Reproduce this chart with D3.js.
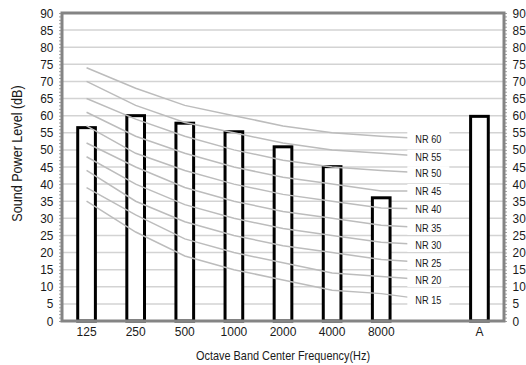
<!DOCTYPE html>
<html><head><meta charset="utf-8">
<script src="https://cdn.jsdelivr.net/npm/d3@7"></script>
<style>
body{margin:0;background:#fff}
text{font-family:"Liberation Sans",Arial,sans-serif;fill:#1a1a1a}
</style>
</head><body><svg id="c" width="526" height="365"></svg>
<script>
const categories = ["125","250","500","1000","2000","4000","8000","","A"];
const soundPower = [56.5, 60.0, 57.8, 55.3, 50.9, 45.1, 36.0, null, 59.8];
const nrCategories = ["125","250","500","1000","2000","4000","8000",""];
const nrNames = ["NR 60","NR 55","NR 50","NR 45","NR 40","NR 35","NR 30","NR 25","NR 20","NR 15"];
const nr60 = [74, 68, 63, 60, 57, 55, 54, 53.2];
const nr55 = [70, 63, 58, 55, 52, 50, 49, 48];
const nr50 = [65, 59, 54, 50, 47, 45, 44, 43.2];
const nr45 = [61, 54, 49, 45, 42, 40, 38, 38];
const nr40 = [57, 49, 44, 40, 37, 35, 33, 32.7];
const nr35 = [52, 45, 39, 35, 32, 30, 28, 27.2];
const nr30 = [48, 40, 34, 30, 27, 25, 23, 22.2];
const nr25 = [44, 35, 29, 25, 22, 20, 18, 17];
const nr20 = [39, 31, 24, 20, 17, 14, 13, 12];
const nr15 = [35, 26, 19, 15, 12, 9, 8, 6.1];
const nrSeries = [nr60, nr55, nr50, nr45, nr40, nr35, nr30, nr25, nr20, nr15];
const yTicks = d3.range(0, 91, 5);
const yMinor = d3.range(0, 91, 1);
const yTitle = "Sound Power Level (dB)";
const xTitle = "Octave Band Center Frequency(Hz)";

const svg = d3.select("#c");
const L = 62, R = 504, T = 13, B = 321;
const x = d3.scaleBand().domain(categories).range([L, R]).padding(0);
const y = d3.scaleLinear().domain([0, 90]).range([B, T]);

// gridlines
svg.append("g").selectAll("line").data(yTicks.filter(d => d > 0 && d < 90)).join("line")
  .attr("x1", L).attr("x2", R).attr("y1", d => y(d)).attr("y2", d => y(d))
  .attr("stroke", "#d3d3d3").attr("stroke-width", 1.5);

// bars
const bw = x.bandwidth() * 0.36;
svg.append("g").selectAll("rect").data(categories.map((c, i) => ({c, v: soundPower[i]})).filter(d => d.v != null)).join("rect")
  .attr("x", d => x(d.c) + x.bandwidth() / 2 - bw / 2)
  .attr("width", bw)
  .attr("y", d => y(d.v))
  .attr("height", d => y(0) - y(d.v))
  .attr("fill", "#fff").attr("stroke", "#000").attr("stroke-width", 3);

// NR curves
const line = d3.line().x((d, i) => x(nrCategories[i]) + x.bandwidth() / 2).y(d => y(d));
svg.append("g").selectAll("path").data(nrSeries).join("path")
  .attr("d", d => line(d)).attr("fill", "none").attr("stroke", "#bcbcbc").attr("stroke-width", 1.5);

// NR labels
const lg = svg.append("g").selectAll("g").data(nrSeries).join("g")
  .attr("transform", d => `translate(${x("") + x.bandwidth() / 2 - 2},${y(d[d.length - 1])})`);
lg.append("rect").attr("x", -21).attr("y", -7).attr("width", 42).attr("height", 14).attr("fill", "#fff");
lg.append("text").attr("text-anchor", "middle").attr("dy", "0.36em").attr("font-size", 11.5)
  .attr("transform", "scale(0.8,1)")
  .text((d, i) => nrNames[i]);

// minor ticks
svg.append("g").attr("transform", `translate(${L},0)`)
  .call(d3.axisLeft(y).tickValues(yMinor).tickSize(3).tickFormat(""))
  .call(g => g.select(".domain").remove())
  .call(g => g.selectAll("line").attr("stroke", "#a0a0a0"));
svg.append("g").attr("transform", `translate(${R},0)`)
  .call(d3.axisRight(y).tickValues(yMinor).tickSize(3).tickFormat(""))
  .call(g => g.select(".domain").remove())
  .call(g => g.selectAll("line").attr("stroke", "#a0a0a0"));

// tick labels
svg.append("g").attr("transform", `translate(${L},0)`)
  .call(d3.axisLeft(y).tickValues(yTicks).tickSize(0).tickPadding(9))
  .call(g => g.select(".domain").remove())
  .call(g => g.selectAll("text").attr("font-size", 12.5).attr("font-family", null).attr("transform", "scale(0.95,1)"));
svg.append("g").attr("transform", `translate(${R},0)`)
  .call(d3.axisRight(y).tickValues(yTicks).tickSize(0).tickPadding(9))
  .call(g => g.select(".domain").remove())
  .call(g => g.selectAll("text").attr("font-size", 12.5).attr("font-family", null).attr("transform", "scale(0.95,1)"));
svg.append("g").attr("transform", `translate(0,${B})`)
  .call(d3.axisBottom(x).tickSize(0).tickPadding(6.5))
  .call(g => g.select(".domain").remove())
  .call(g => g.selectAll("text").attr("font-size", 12).attr("font-family", null));

// frame
svg.append("rect").attr("x", L).attr("y", T).attr("width", R - L).attr("height", B - T)
  .attr("fill", "none").attr("stroke", "#848484").attr("stroke-width", 3);

// titles
svg.append("g").attr("transform", `translate(${(L + R) / 2},360)`)
  .append("text").attr("text-anchor", "middle").attr("font-size", 13).attr("transform", "scale(0.84,1)")
  .text(xTitle);
svg.append("g").attr("transform", `translate(22,153.5) rotate(-90)`)
  .append("text").attr("text-anchor", "middle").attr("font-size", 14).attr("transform", "scale(0.9,1)")
  .text(yTitle);
</script></body></html>
